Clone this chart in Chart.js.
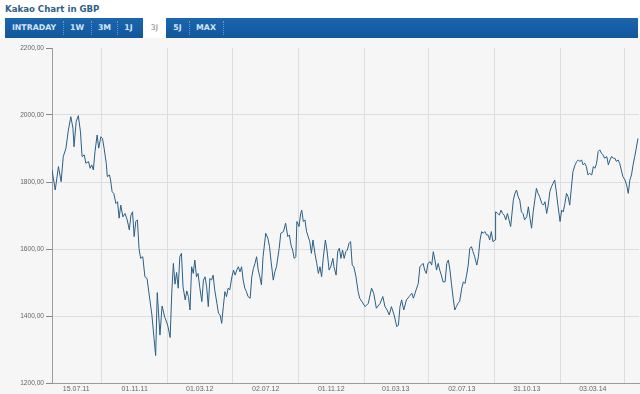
<!DOCTYPE html>
<html>
<head>
<meta charset="utf-8">
<script src="https://cdn.jsdelivr.net/npm/chart.js@4"></script>
<style>
  html, body { margin: 0; padding: 0; background: #fff; }
  #page { position: relative; width: 640px; height: 394px; overflow: hidden; }
  #title { position: absolute; left: 5px; top: 4px; font: bold 8.6px "DejaVu Sans", sans-serif; color: #2e5f8c; }
  #tabbar { position: absolute; left: 5px; top: 18px; width: 633px; height: 20px;
            background: linear-gradient(#1b66ae, #12579c); }
  .tab { position: absolute; top: 0; height: 20px; font: bold 7.8px "DejaVu Sans", sans-serif; line-height: 20px;
         color: #d4e4f3; transform: translateX(-50%); white-space: nowrap; }
  .sep { position: absolute; top: 3px; height: 14px; width: 0; border-left: 1px dotted rgba(255,255,255,0.35); }
  #active { position: absolute; left: 138px; top: 0; width: 23px; height: 20px; background: #fff; }
  .tab.on { color: #777; font-weight: normal; }
  #bg { position: absolute; left: 0; top: 38px; width: 640px; height: 356px; background: #f6f6f6; }
  #companyChart { position: absolute; left: 0; top: 40px; }
</style>
</head>
<body>
<div id="page">
  <div id="title">Kakao Chart in GBP</div>
  <div id="bg"></div>
  <div id="tabbar">
    <div id="active"></div>
    <span class="tab" style="left:29px">INTRADAY</span>
    <span class="sep" style="left:58px"></span>
    <span class="tab" style="left:72px">1W</span>
    <span class="sep" style="left:86px"></span>
    <span class="tab" style="left:99.5px">3M</span>
    <span class="sep" style="left:112px"></span>
    <span class="tab" style="left:123.5px">1J</span>
    <span class="tab on" style="left:149.5px">3J</span>
    <span class="tab" style="left:172.5px">5J</span>
    <span class="sep" style="left:184px"></span>
    <span class="tab" style="left:201px">MAX</span>
    <span class="sep" style="left:218px"></span>
  </div>
  <canvas id="companyChart" width="640" height="354"></canvas>
</div>
<script>
// days since 31.05.2011, closing price in GBP
const days = [
  0, 6, 12, 17, 21, 26, 30, 35, 39, 41, 45, 49, 53, 56, 60, 63, 68, 71, 74, 77,
  80, 84, 87, 91, 94, 97, 101, 103, 107, 109, 112, 115, 119, 122, 125, 128, 132, 136, 140, 144,
  147, 150, 153, 156, 159, 162, 165, 169, 173, 177, 181, 186, 190, 193, 196, 201, 205, 210, 214, 216,
  220, 223, 226, 229, 232, 235, 238, 241, 244, 248, 251, 254, 257, 260, 263, 266, 269, 272, 275, 279,
  282, 285, 288, 291, 294, 297, 300, 303, 307, 310, 313, 316, 319, 322, 325, 328, 331, 335, 338, 341,
  344, 347, 350, 353, 356, 359, 362, 365, 369, 372, 375, 378, 381, 384, 387, 390, 393, 398, 402, 405,
  408, 412, 415, 418, 423, 426, 431, 435, 439, 442, 445, 448, 451, 454, 456, 460, 463, 465, 468, 471,
  474, 477, 480, 483, 486, 490, 493, 496, 499, 502, 505, 509, 512, 516, 519, 523, 525, 529, 532, 535,
  538, 541, 544, 547, 550, 553, 556, 559, 562, 566, 570, 573, 583, 589, 595, 599, 604, 611, 616, 620,
  624, 628, 632, 637, 642, 645, 648, 651, 655, 660, 665, 670, 673, 678, 682, 685, 688, 691, 694, 697,
  700, 704, 707, 710, 713, 716, 719, 722, 725, 728, 732, 735, 738, 741, 744, 747, 750, 753, 756, 759,
  763, 766, 769, 772, 775, 778, 781, 784, 787, 791, 794, 797, 800, 803, 806, 809, 812, 815, 818, 821,
  825, 826, 830, 833, 836, 839, 842, 845, 848, 851, 854, 859, 862, 865, 868, 871, 874, 877, 880, 884,
  887, 890, 893, 896, 899, 902, 905, 908, 912, 915, 918, 921, 924, 927, 930, 933, 936, 939, 942, 946,
  949, 952, 955, 958, 961, 964, 967, 970, 974, 977, 980, 983, 986, 989, 992, 995, 998, 1001, 1005, 1008,
  1011, 1014, 1017, 1020, 1023, 1026, 1029, 1033, 1036, 1039, 1042, 1045, 1048, 1051, 1054, 1057, 1060, 1063, 1067, 1070,
  1073, 1076, 1079, 1082, 1085, 1088, 1091
];
const prices = [
  1836, 1776, 1846, 1801, 1876, 1901, 1950, 1995, 1961, 1905, 1980, 1998, 1950, 1876, 1881, 1856, 1861, 1841, 1851, 1836,
  1890, 1940, 1901, 1935, 1930, 1901, 1856, 1816, 1821, 1806, 1771, 1766, 1736, 1741, 1692, 1731, 1696, 1706, 1687, 1657,
  1701, 1711, 1637, 1682, 1687, 1602, 1572, 1577, 1517, 1512, 1463, 1403, 1333, 1282, 1470, 1343, 1430, 1396, 1379, 1368,
  1336, 1468, 1557, 1495, 1530, 1483, 1577, 1587, 1487, 1448, 1475, 1458, 1418, 1547, 1527, 1567, 1517, 1527, 1487, 1443,
  1507, 1517, 1487, 1428, 1512, 1507, 1522, 1478, 1438, 1408, 1403, 1378, 1428, 1473, 1458, 1483, 1478, 1517, 1537, 1522,
  1537, 1547, 1532, 1547, 1507, 1483, 1473, 1458, 1453, 1517, 1542, 1557, 1577, 1537, 1517, 1493, 1577, 1647, 1632, 1607,
  1562, 1507, 1532, 1547, 1602, 1647, 1652, 1677, 1637, 1642, 1612, 1597, 1572, 1577, 1682, 1667, 1706, 1716, 1682, 1687,
  1652, 1637, 1622, 1587, 1627, 1582, 1557, 1527, 1547, 1517, 1572, 1627, 1597, 1537, 1547, 1572, 1547, 1522, 1592, 1602,
  1572, 1597, 1572, 1592, 1597, 1617, 1622, 1552, 1547, 1517, 1473, 1453, 1428, 1438, 1483, 1468, 1423, 1438, 1458, 1428,
  1418, 1403, 1428, 1403, 1368, 1373, 1428, 1448, 1418, 1448, 1458, 1468, 1453, 1478, 1497, 1547, 1552, 1557, 1537, 1527,
  1557, 1562, 1552, 1592, 1567, 1537, 1557, 1537, 1522, 1502, 1502, 1557, 1567, 1537, 1493, 1453, 1418, 1428, 1438, 1443,
  1483, 1502, 1497, 1522, 1552, 1602, 1607, 1592, 1577, 1552, 1577, 1627, 1652, 1647, 1652, 1642, 1642, 1627, 1652, 1622,
  1627, 1711, 1706, 1701, 1716, 1706, 1701, 1687, 1706, 1687, 1667, 1746, 1766, 1776, 1756, 1746, 1711, 1706, 1687, 1696,
  1726, 1692, 1662, 1711, 1746, 1781, 1766, 1756, 1736, 1731, 1741, 1706, 1731, 1771, 1786, 1796, 1806, 1771, 1731, 1682,
  1716, 1711, 1736, 1766, 1756, 1731, 1781, 1831, 1851, 1861, 1866, 1861, 1866, 1851, 1856, 1846, 1821, 1826, 1821, 1846,
  1841, 1856, 1891, 1896, 1886, 1881, 1871, 1876, 1851, 1866, 1876, 1871, 1871, 1861, 1866, 1856, 1836, 1816, 1806, 1791,
  1766, 1806, 1821, 1851, 1876, 1901, 1930
];
const lastDay = 1093;

// x labels (dates) and vertical grid lines (1st of Sep / Jan / May)
const labelDays = [45, 154, 275, 398, 520, 640, 763, 884, 1007];
const labelTexts = ['15.07.11', '01.11.11', '01.03.12', '02.07.12', '01.11.12', '01.03.13', '02.07.13', '31.10.13', '03.03.14'];
const gridDays = [93, 215, 336, 459, 581, 701, 824, 946, 1066];

const yMin = 1200;
const yMax = 2200;
const yStep = 200;

const gridColor = '#dedede';
const axisColor = '#9c9c9c';
const clear = 'rgba(0,0,0,0)';

const config = {
    type: 'line',
    data: {
        datasets: [{
            label: 'Kakao',
            data: days.map((d, i) => ({ x: d, y: prices[i] })),
            borderColor: '#2a5f84',
            borderWidth: 1,
            pointRadius: 0,
            tension: 0,
            fill: false
        }]
    },
    options: {
        responsive: false,
        animation: false,
        layout: { padding: { top: 8, right: 1, left: 0, bottom: 0 } },
        plugins: { legend: { display: false }, tooltip: { enabled: false } },
        scales: {
            x: {
                type: 'linear',
                min: 0,
                max: lastDay,
                afterBuildTicks: (scale) => {
                    scale.ticks = labelDays.concat(gridDays).sort((a, b) => a - b).map(v => ({ value: v }));
                },
                afterFit: (scale) => { scale.height = 11; },
                ticks: {
                    autoSkip: false,
                    maxRotation: 0,
                    padding: 2,
                    color: '#666',
                    font: { family: 'Liberation Sans', size: 7 },
                    callback: (v) => {
                        const i = labelDays.indexOf(v);
                        return i >= 0 ? labelTexts[i] : '';
                    }
                },
                grid: {
                    drawTicks: false,
                    color: (ctx) => (ctx.tick && gridDays.includes(ctx.tick.value)) ? gridColor : clear
                },
                border: { color: axisColor }
            },
            y: {
                min: yMin,
                max: yMax,
                afterFit: (scale) => { scale.width = 52; },
                ticks: {
                    stepSize: yStep,
                    padding: 2,
                    color: '#666',
                    font: { family: 'Liberation Sans', size: 6.6 },
                    callback: (v) => v.toFixed(2).replace('.', ',')
                },
                grid: {
                    tickLength: 6,
                    tickColor: '#888',
                    color: (ctx) => (ctx.tick && (ctx.tick.value === yMin || ctx.tick.value === yMax)) ? clear : gridColor
                },
                border: { color: axisColor }
            }
        }
    }
};

new Chart(document.getElementById('companyChart'), config);
</script>
</body>
</html>
